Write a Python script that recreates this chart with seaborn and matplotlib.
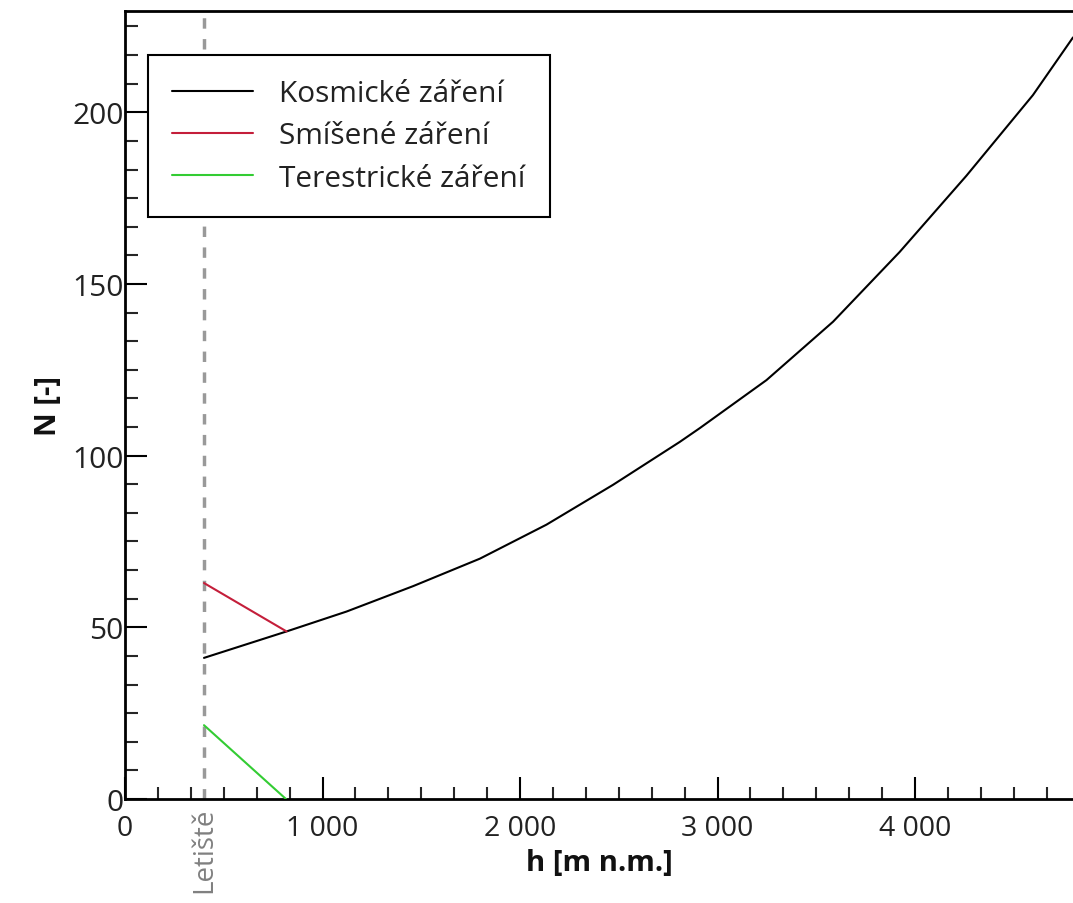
import matplotlib
matplotlib.use("Agg")
import matplotlib.pyplot as plt
import matplotlib.ticker as mticker
import matplotlib.transforms as mtransforms
import seaborn as sns
import pandas as pd

# ---- data ----
h_cosmic = [400, 818, 1122, 1459, 1797, 2134, 2471, 2809, 2910, 3248, 3585, 3922, 4260, 4597, 4800]
n_cosmic = [41.1, 48.8, 54.6, 62.0, 70.0, 79.9, 91.5, 104.0, 108.0, 122.0, 139.0, 159.3, 181.5, 205.0, 221.8]

h_mixed = [400, 818]
n_mixed = [62.9, 48.8]

h_terr = [400, 815]
n_terr = [21.5, 0.0]

airport_h = 400
airport_label = "Letiště"

series_names = ["Kosmické záření", "Smíšené záření", "Terestrické záření"]
series_colors = ["#000000", "#c41e3a", "#33cc33"]

x_label = "h [m n.m.]"
y_label = "N [-]"
x_major = [0, 1000, 2000, 3000, 4000]
y_major = [0, 50, 100, 150, 200]

# ---- build tidy frame ----
frames = []
for name, hs, ns in zip(series_names, [h_cosmic, h_mixed, h_terr], [n_cosmic, n_mixed, n_terr]):
    frames.append(pd.DataFrame({"h": hs, "N": ns, "serie": name}))
df = pd.concat(frames, ignore_index=True)

sns.set_theme(style="ticks")
plt.rcParams["font.family"] = ["Open Sans", "DejaVu Sans"]

fig = plt.figure(figsize=(10.73, 9.04), dpi=100)
ax = fig.add_axes([125 / 1073, (904 - 800) / 904, 1 - 125 / 1073, (800 - 12) / 904])

ax.axvline(airport_h, color="#999999", linestyle=(0, (3, 3)), linewidth=2.5, zorder=1)

sns.lineplot(data=df, x="h", y="N", hue="serie", palette=dict(zip(series_names, series_colors)),
             hue_order=series_names, linewidth=1.5, ax=ax, zorder=3, sort=False, estimator=None)

ax.set_xlim(0, 4800)
ax.set_ylim(0, 229.5)

ax.xaxis.set_major_locator(mticker.FixedLocator(x_major))
ax.xaxis.set_minor_locator(mticker.MultipleLocator(1000 / 6))
ax.yaxis.set_major_locator(mticker.FixedLocator(y_major))
ax.yaxis.set_minor_locator(mticker.MultipleLocator(50 / 6))
ax.xaxis.set_major_formatter(mticker.FuncFormatter(lambda v, p: f"{int(v):,}".replace(",", " ")))
ax.yaxis.set_major_formatter(mticker.FuncFormatter(lambda v, p: f"{int(v)}"))

ax.tick_params(axis="both", which="major", direction="in", length=16, width=1.5, labelsize=21.5,
               colors="black", labelcolor="#222222")
ax.tick_params(axis="x", which="major", labelsize=20.5, pad=11)
ax.tick_params(axis="y", which="major", pad=1)
ax.tick_params(axis="both", which="minor", direction="in", length=9, width=1.5)
ax.tick_params(axis="x", which="both", top=False)
ax.tick_params(axis="y", which="both", right=False)

for s in ["left", "bottom", "top"]:
    ax.spines[s].set_linewidth(2)
    ax.spines[s].set_color("black")
ax.spines["right"].set_visible(False)

ax.set_xlabel(x_label, fontsize=21, fontweight="bold", labelpad=4, color="#111111")
ax.set_ylabel(y_label, fontsize=21, fontweight="bold", labelpad=7, color="#111111")

trans = mtransforms.blended_transform_factory(ax.transData, ax.transAxes)
ax.text(airport_h, -0.01, airport_label, transform=trans, rotation=90, ha="center", va="top",
        fontsize=20, color="#808080")

leg = ax.legend(loc="upper left", bbox_to_anchor=(0.0243, 0.944), fontsize=21.5, frameon=True,
                fancybox=False, edgecolor="black", framealpha=1, handlelength=2.7,
                borderpad=0.8, labelspacing=0.45, handletextpad=0.9, borderaxespad=0)
leg.get_frame().set_linewidth(1.5)
leg.set_zorder(10)
for t in leg.get_texts():
    t.set_color("#222222")

fig.savefig("out.png", dpi=100)
